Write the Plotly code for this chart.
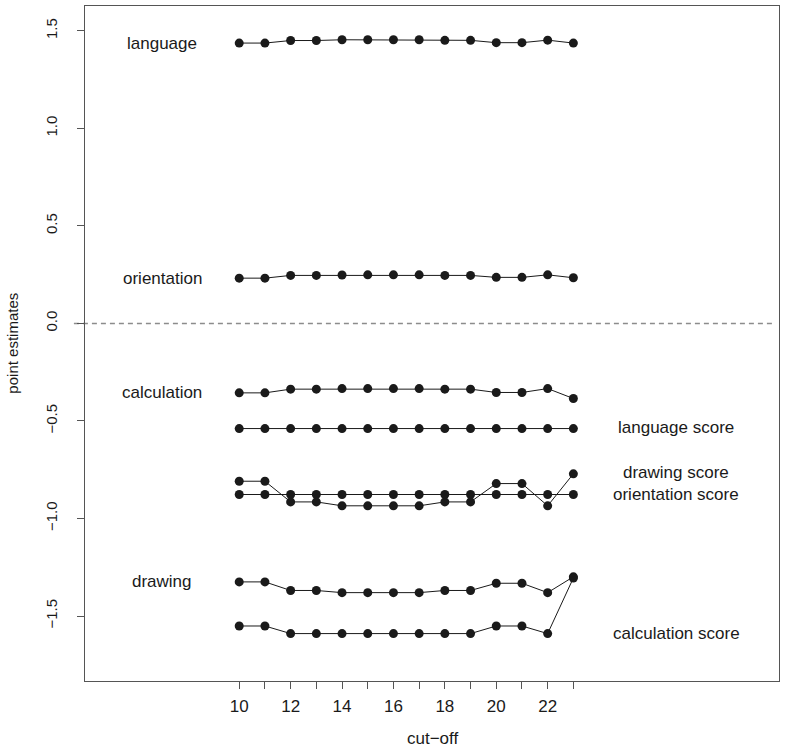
import plotly.graph_objects as go

cutoff = list(range(10, 24))

language = [1.437, 1.437, 1.450, 1.450, 1.454, 1.454, 1.454, 1.454, 1.451, 1.451, 1.439, 1.439, 1.452, 1.437]
orientation = [0.232, 0.232, 0.246, 0.246, 0.248, 0.249, 0.249, 0.249, 0.246, 0.246, 0.236, 0.236, 0.249, 0.234]
calculation = [-0.356, -0.356, -0.337, -0.337, -0.334, -0.334, -0.334, -0.334, -0.337, -0.337, -0.354, -0.354, -0.334, -0.385]
language_score = [-0.539] * 14
drawing_score = [-0.809, -0.809, -0.915, -0.915, -0.935, -0.935, -0.935, -0.935, -0.915, -0.915, -0.821, -0.821, -0.935, -0.771]
orientation_score = [-0.877] * 14
drawing = [-1.325, -1.325, -1.369, -1.369, -1.380, -1.380, -1.380, -1.380, -1.369, -1.369, -1.332, -1.332, -1.380, -1.299]
calculation_score = [-1.551, -1.551, -1.590, -1.590, -1.590, -1.590, -1.590, -1.590, -1.590, -1.590, -1.551, -1.551, -1.590, -1.305]

series = [language, orientation, calculation, language_score,
          drawing_score, orientation_score, drawing, calculation_score]

left_labels = ["language", "orientation", "calculation", "drawing"]
left_label_x = [7, 7, 7, 7]
left_label_y = [1.437, 0.232, -0.356, -1.325]

right_labels = ["language score", "drawing score", "orientation score", "calculation score"]
right_label_x = [27, 27, 27, 27]
right_label_y = [-0.535, -0.766, -0.879, -1.590]

y_ticks = [-1.5, -1.0, -0.5, 0.0, 0.5, 1.0, 1.5]
x_tick_labels = [str(v) if v % 2 == 0 else "" for v in cutoff]

FONT = "Liberation Sans, Arial, Helvetica, sans-serif"
INK = "#1a1a1a"

fig = go.Figure()
for s in series:
    fig.add_trace(go.Scatter(
        x=cutoff, y=s, mode="lines+markers",
        line=dict(color=INK, width=1),
        marker=dict(color=INK, size=9, symbol="circle"),
        showlegend=False, hoverinfo="skip",
    ))

fig.add_shape(type="line", xref="paper", yref="y", x0=-0.016, x1=0.995, y0=0, y1=0,
              line=dict(color="#8c8c8c", width=1.5, dash="5px,4px"), layer="below")

for t, x, y in zip(left_labels, left_label_x, left_label_y):
    fig.add_annotation(x=x, y=y, text=t, showarrow=False, xanchor="center", yanchor="middle",
                       font=dict(family=FONT, size=17, color=INK))
for t, x, y in zip(right_labels, right_label_x, right_label_y):
    fig.add_annotation(x=x, y=y, text=t, showarrow=False, xanchor="center", yanchor="middle",
                       font=dict(family=FONT, size=17, color=INK))

fig.add_annotation(xref="paper", yref="paper", x=-0.105, y=0.5, text="point estimates",
                   textangle=-90, showarrow=False, xanchor="center", yanchor="middle",
                   font=dict(family=FONT, size=15, color=INK))
fig.add_annotation(xref="paper", yref="paper", x=0.5, y=-0.085, text="cut\u2212off",
                   showarrow=False, xanchor="center", yanchor="middle",
                   font=dict(family=FONT, size=17, color=INK))

fig.update_layout(
    width=786, height=748,
    margin=dict(l=85, r=7, t=6, b=67),
    paper_bgcolor="white", plot_bgcolor="white",
    font=dict(family=FONT, color=INK),
    xaxis=dict(range=[4, 31], tickvals=cutoff, ticktext=x_tick_labels,
               ticks="outside", ticklen=7, tickcolor="#555", tickwidth=1,
               ticklabelstandoff=3,
               showgrid=False, zeroline=False, showline=True, linecolor="#555",
               linewidth=1, mirror=True, tickfont=dict(size=17, family=FONT, color=INK)),
    yaxis=dict(range=[-1.833, 1.627], tickvals=y_ticks, tickformat=".1f",
               ticks="outside", ticklen=7, tickcolor="#555", tickwidth=1,
               ticklabelstandoff=14,
               tickangle=-90, showgrid=False, zeroline=False, showline=True,
               linecolor="#555", linewidth=1, mirror=True,
               tickfont=dict(size=15, family=FONT, color=INK)),
)

fig.write_html("out.html", config={"displayModeBar": False},
               post_script="document.body.style.margin='0';")
